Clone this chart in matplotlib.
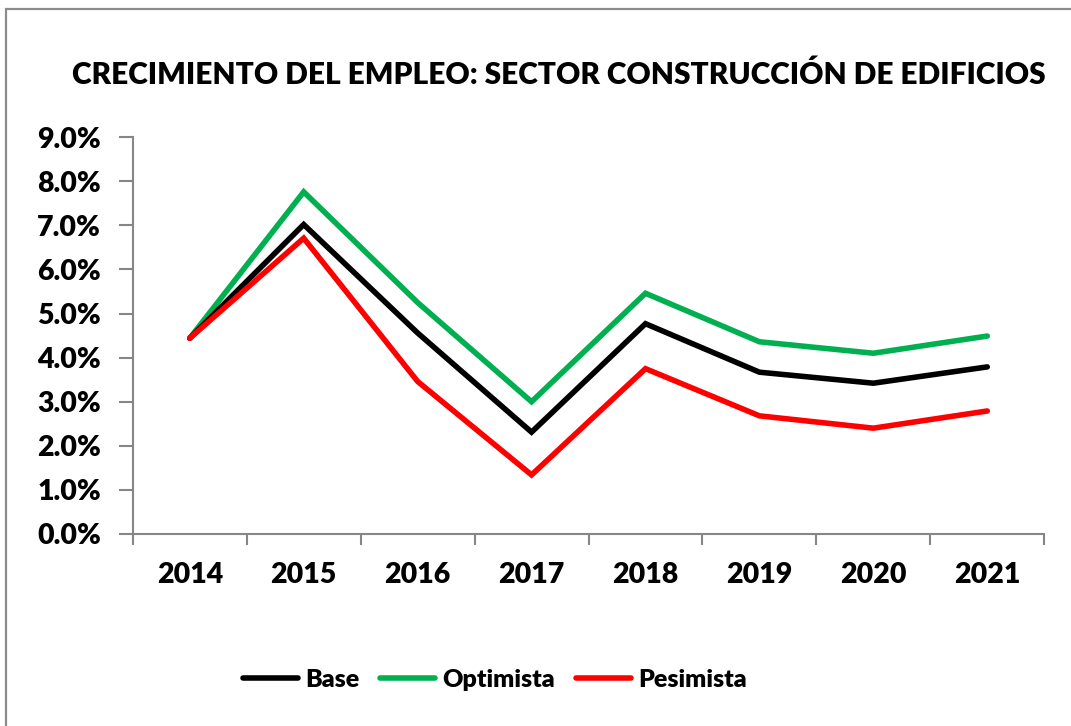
import matplotlib.pyplot as plt
from matplotlib.patches import Rectangle
from matplotlib.ticker import FuncFormatter, FixedLocator

plt.rcParams['font.family'] = ['Lato', 'DejaVu Sans']
plt.rcParams['font.weight'] = 'heavy'

years = ['2014', '2015', '2016', '2017', '2018', '2019', '2020', '2021']
base = [4.44, 7.02, 4.56, 2.31, 4.77, 3.67, 3.42, 3.79]
optimista = [4.44, 7.76, 5.25, 3.00, 5.46, 4.36, 4.10, 4.49]
pesimista = [4.44, 6.71, 3.46, 1.34, 3.75, 2.68, 2.40, 2.79]

fig = plt.figure(figsize=(10.71, 7.26), dpi=100)
ax = fig.add_axes([0.124, 0.2645, 0.851, 0.5465])

# borde exterior del grafico (se corta a la derecha y abajo)
fig.patches.append(Rectangle((6 / 1071, -0.05), 1.1, 1 - 9 / 726 + 0.05, transform=fig.transFigure,
                             fill=False, edgecolor='#8c8c8c', linewidth=1.6))

x = range(len(years))
lw = 4.0
ax.plot(x, base, color='black', lw=lw, label='Base', solid_capstyle='round', solid_joinstyle='miter', zorder=3)
ax.plot(x, optimista, color='#00B050', lw=lw, label='Optimista', solid_capstyle='round', solid_joinstyle='miter', zorder=2)
ax.plot(x, pesimista, color='#FF0000', lw=lw, label='Pesimista', solid_capstyle='round', solid_joinstyle='miter', zorder=4)

ax.set_xlim(-0.5, len(years) - 0.5)
ax.set_ylim(0, 9)
ax.set_yticks([i for i in range(10)])
ax.yaxis.set_major_formatter(FuncFormatter(lambda v, p: f'{v:.1f}%'))

ax.set_xticks(list(x))
ax.set_xticklabels(years)
ax.xaxis.set_minor_locator(FixedLocator([i - 0.5 for i in range(len(years) + 1)]))
ax.tick_params(axis='x', which='major', length=0, pad=20, labelsize=20.5)
ax.tick_params(axis='x', which='minor', length=8, width=1.5, color='#868686', direction='out')
ax.tick_params(axis='y', length=10, width=1.5, color='#868686', direction='out', labelsize=20.5, pad=13)

for s in ['top', 'right']:
    ax.spines[s].set_visible(False)
for s in ['left', 'bottom']:
    ax.spines[s].set_color('#868686')
    ax.spines[s].set_linewidth(1.5)

fig.text(0.522, 0.897, 'CRECIMIENTO DEL EMPLEO: SECTOR CONSTRUCCIÓN DE EDIFICIOS',
         ha='center', va='center', fontsize=21.5)

fig.legend(loc='center', bbox_to_anchor=(0.462, 0.064), ncol=3, frameon=False,
           fontsize=18, handlelength=2.2, handletextpad=0.28, columnspacing=0.85)

fig.savefig('out.png', dpi=100)
